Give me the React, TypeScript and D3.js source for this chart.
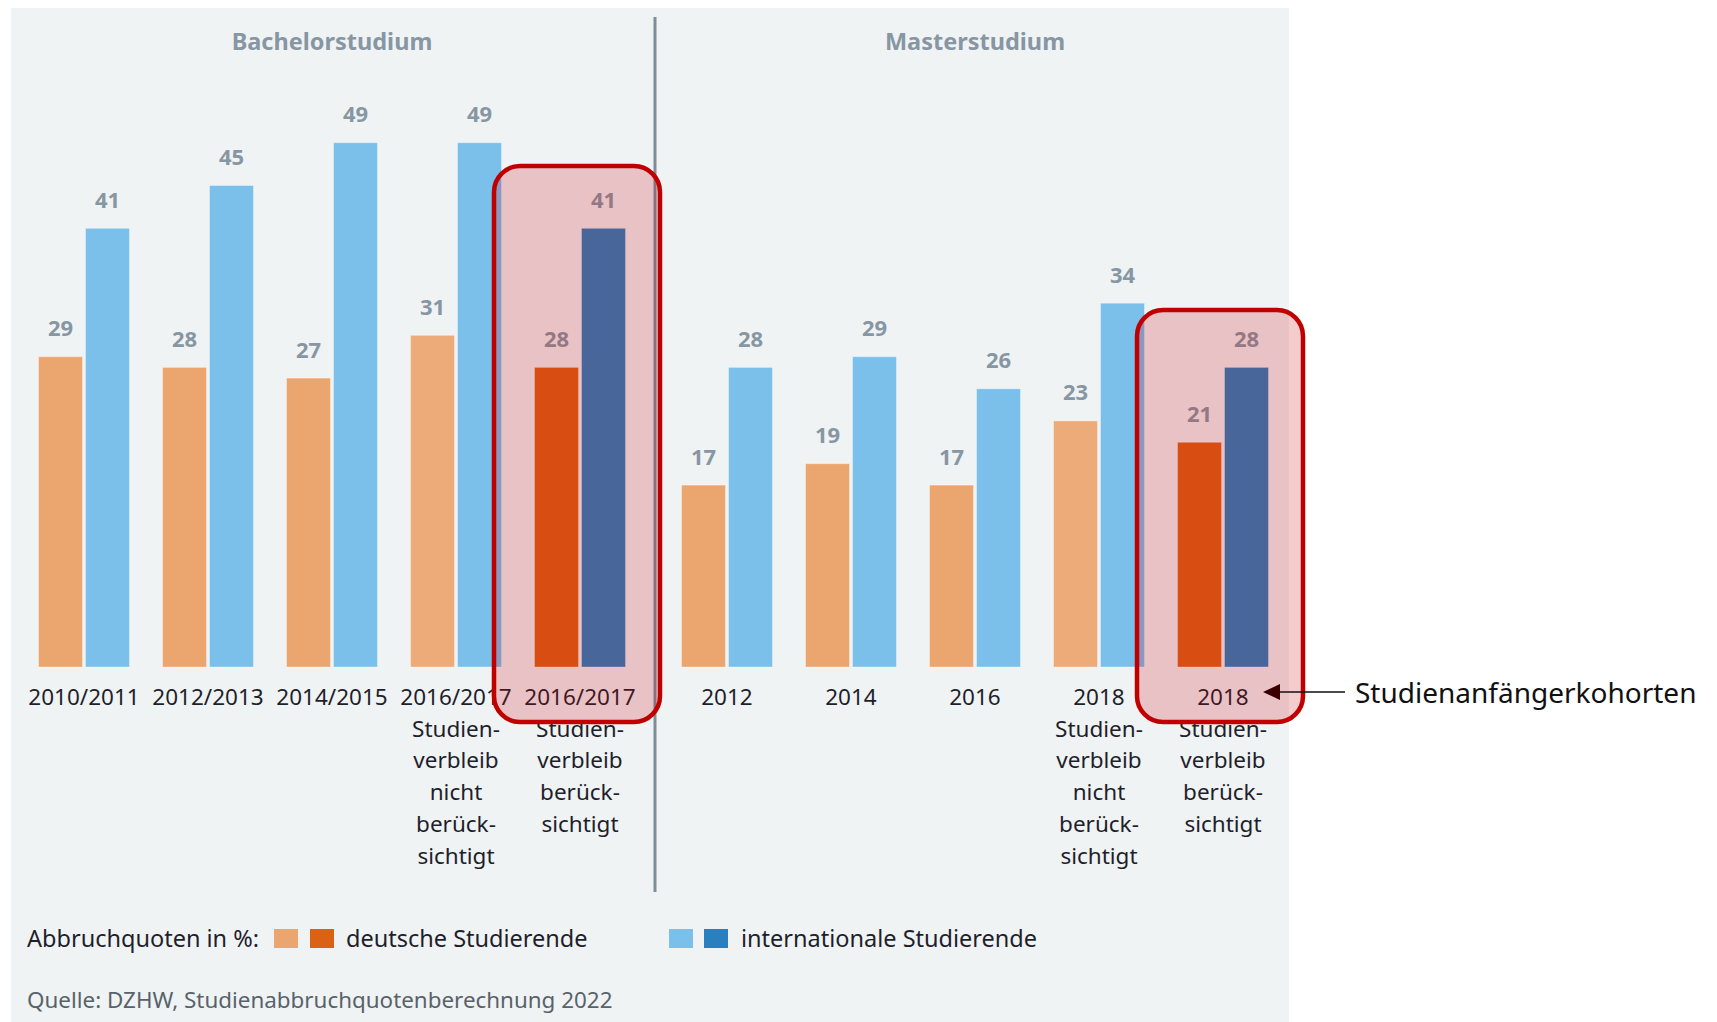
import React from "react";
import * as d3 from "d3";

const bachelorCats = ["2010/2011", "2012/2013", "2014/2015", "2016/2017 a", "2016/2017 b"];
const bachelorLabels = [
  ["2010/2011"],
  ["2012/2013"],
  ["2014/2015"],
  ["2016/2017", "Studien-", "verbleib", "nicht", "berück-", "sichtigt"],
  ["2016/2017", "Studien-", "verbleib", "berück-", "sichtigt"],
];
const bachelorGerman = [29, 28, 27, 31, 28];
const bachelorIntl = [41, 45, 49, 49, 41];

const masterCats = ["2012", "2014", "2016", "2018 a", "2018 b"];
const masterLabels = [
  ["2012"],
  ["2014"],
  ["2016"],
  ["2018", "Studien-", "verbleib", "nicht", "berück-", "sichtigt"],
  ["2018", "Studien-", "verbleib", "berück-", "sichtigt"],
];
const masterGerman = [17, 19, 17, 23, 21];
const masterIntl = [28, 29, 26, 34, 28];

// 0 = normal, 1 = "Studienverbleib nicht berücksichtigt", 2 = highlighted
const variant = [0, 0, 0, 1, 2];

const seriesKeys = ["deutsch", "international"];
const groupTitles = ["Bachelorstudium", "Masterstudium"];
const legendPrefix = "Abbruchquoten in %:";
const legendNames = ["deutsche Studierende", "internationale Studierende"];
const annotation = "Studienanfängerkohorten";
const source = "Quelle: DZHW, Studienabbruchquotenberechnung 2022";

const FONT = "'Source Sans Pro', 'Noto Sans', sans-serif";
const colors = {
  deLight: "#eba56f",
  deLight2: "#ecab79",
  deDark: "#db6115",
  inLight: "#7bc0ea",
  inDark: "#2a80bf",
  label: "#8796a3",
  text: "#1f1f2b",
};

export default function App() {
  const y = d3.scaleLinear().domain([0, 49]).range([667, 142.7]);
  const xB = d3.scaleBand().domain(bachelorCats).range([22, 642]);
  const xM = d3.scaleBand().domain(masterCats).range([665, 1285]);
  const xInner = d3.scaleBand().domain(seriesKeys).range([16.5, 107.5]).paddingInner(0.064);

  const panels = [
    { x: xB, cats: bachelorCats, labels: bachelorLabels, de: bachelorGerman, intl: bachelorIntl, title: groupTitles[0] },
    { x: xM, cats: masterCats, labels: masterLabels, de: masterGerman, intl: masterIntl, title: groupTitles[1] },
  ];

  const barColor = (key: string, v: number) => {
    if (key === "deutsch") return v === 2 ? colors.deDark : v === 1 ? colors.deLight2 : colors.deLight;
    return v === 2 ? colors.inDark : colors.inLight;
  };

  return (
    <svg
      width={1717}
      height={1022}
      style={{ position: "absolute", left: 0, top: 0, fontFamily: FONT }}
    >
      <rect x={0} y={0} width={1717} height={1022} fill="#ffffff" />
      <rect x={11} y={8} width={1278} height={1014} fill="#f0f3f4" />

      {panels.map((p, pi) => {
        const bw = xInner.bandwidth();
        return (
          <g key={pi}>
            <text
              x={(p.x(p.cats[2]) as number) + p.x.bandwidth() / 2}
              y={50}
              textAnchor="middle"
              fontSize={23.5}
              fontWeight={700}
              fill={colors.label}
            >
              {p.title}
            </text>
            {p.cats.map((c, i) => {
              const gx = p.x(c) as number;
              const vals = [p.de[i], p.intl[i]];
              return (
                <g key={c}>
                  {seriesKeys.map((k, ki) => {
                    const bx = gx + (xInner(k) as number);
                    const v = vals[ki];
                    return (
                      <g key={k}>
                        <rect
                          x={bx}
                          y={y(v)}
                          width={bw}
                          height={y(0) - y(v)}
                          fill={barColor(k, variant[i])}
                          stroke="#ffffff"
                          strokeOpacity={0.35}
                          strokeWidth={1}
                        />
                        <text
                          x={bx + bw / 2}
                          y={y(v) - 20.5}
                          textAnchor="middle"
                          fontSize={22}
                          fontWeight={700}
                          fill={colors.label}
                        >
                          {v}
                        </text>
                      </g>
                    );
                  })}
                  <text textAnchor="middle" fontSize={22.5} fill={colors.text}>
                    {p.labels[i].map((line, li) => (
                      <tspan key={li} x={gx + p.x.bandwidth() / 2} y={705 + li * 31.7}>
                        {line}
                      </tspan>
                    ))}
                  </text>
                </g>
              );
            })}
          </g>
        );
      })}

      <line x1={655} x2={655} y1={17} y2={892} stroke="#7d8d99" strokeWidth={3} />

      {/* Highlight boxes */}
      {[
        { x: xB, c: bachelorCats[4], top: 166 },
        { x: xM, c: masterCats[4], top: 310 },
      ].map((h, i) => {
        const cx = (h.x(h.c) as number) + h.x.bandwidth() / 2 - 3;
        return (
          <rect
            key={i}
            x={cx - 83}
            y={h.top}
            width={166}
            height={722 - h.top}
            rx={26}
            ry={26}
            fill="rgba(200,0,10,0.2)"
            stroke="#c00000"
            strokeWidth={4.5}
          />
        );
      })}

      {/* Annotation */}
      <line x1={1345} y1={692} x2={1275} y2={692} stroke="#111" strokeWidth={1.5} />
      <path d="M1263,692 L1280,684 L1280,700 Z" fill="#3a0000" />
      <text x={1355} y={703} fontSize={28} fill="#111">
        {annotation}
      </text>

      {/* Legend */}
      <text x={27} y={947} fontSize={23.5} fill={colors.text}>
        {legendPrefix}
      </text>
      <rect x={274} y={929} width={24} height={19} fill={colors.deLight} />
      <rect x={310} y={929} width={24} height={19} fill={colors.deDark} />
      <text x={346} y={947} fontSize={23.5} fill={colors.text}>
        {legendNames[0]}
      </text>
      <rect x={669} y={929} width={24} height={19} fill={colors.inLight} />
      <rect x={704} y={929} width={24} height={19} fill={colors.inDark} />
      <text x={741} y={947} fontSize={23.5} fill={colors.text}>
        {legendNames[1]}
      </text>

      <text x={27} y={1008} fontSize={22.4} fill="#58626a">
        {source}
      </text>
    </svg>
  );
}
